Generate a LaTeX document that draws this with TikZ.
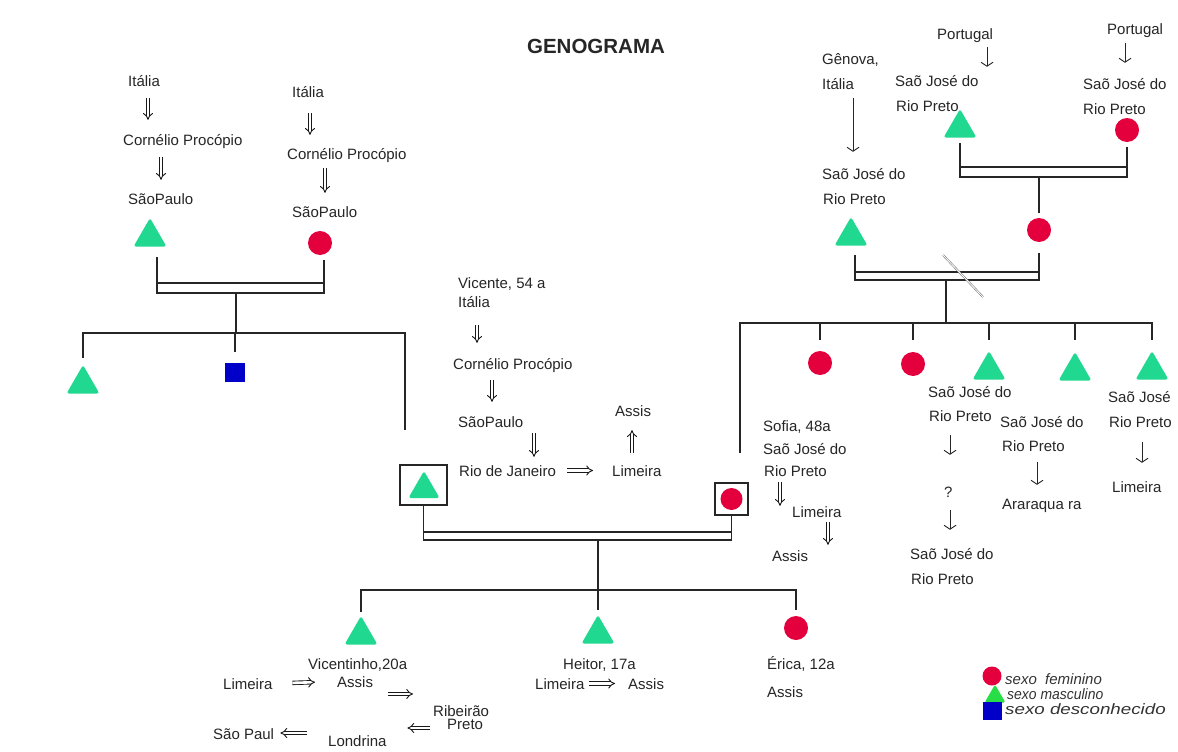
\documentclass[tikz,border=0pt]{standalone}
\usepackage{fontspec}
\usepackage{graphicx}
\setmainfont{Liberation Sans}
\usetikzlibrary{arrows.meta,shapes.geometric,calc}

\definecolor{fem}{RGB}{228,0,60}
\definecolor{masc}{RGB}{32,216,144}
\definecolor{masclg}{RGB}{40,222,70}
\definecolor{unk}{RGB}{0,0,200}

\tikzset{
  gl/.style={line width=1.3pt, black!85},
  txt/.style={inner sep=0pt, anchor=base west, text height=11pt, text depth=0pt,
              font=\fontsize{15}{15}\selectfont, text=black!85},
  lgtxt/.style={inner sep=0pt, anchor=base west, text height=11pt, text depth=0pt,
              font=\itshape\fontsize{15}{15}\selectfont, text=black!80},
  male/.style={regular polygon, regular polygon sides=3, fill=masc, minimum size=38pt,
               inner sep=0pt, rounded corners=2.5pt},
  female/.style={circle, fill=fem, minimum size=24pt, inner sep=0pt},
  unknown/.style={rectangle, fill=unk, minimum width=20pt, minimum height=19pt, inner sep=0pt},
  frame/.style={rectangle, draw=black!85, line width=1.2pt, inner sep=0pt},
  dar/.style={double=white, double distance=2.6pt, line width=0.9pt, -{Implies}, black!90},
  sar/.style={line width=0.9pt, -{Straight Barb[length=4pt, width=12pt]}, black!85},
  slash/.style={gray, double=white, double distance=0.8pt, line width=0.6pt},
}

% marriage link: two verticals joined by a doubled horizontal bar
% #1,#2 partner anchors, #3,#4 start heights, #5 upper bar, #6 lower bar
\newcommand{\couple}[6]{%
  \draw[gl] (#1 |- 0,#3) -- (#1 |- 0,#6) -- (#2 |- 0,#6) -- (#2 |- 0,#4);
  \draw[gl] (#1 |- 0,#5) -- (#2 |- 0,#5);}

% vertical arrow between two stacked labels at a given x
% #1 style, #2 from, #3 to, #4 x, #5/#6 gaps
\newcommand{\vconn}[6]{%
  \draw[#1, shorten <=#5pt, shorten >=#6pt] (#2.south -| #4,0) -- (#3.north -| #4,0);}

\begin{document}
\begin{tikzpicture}[x=1pt,y=-1pt]
\fill[white] (0,0) rectangle (1178,752);
\useasboundingbox (0,0) rectangle (1178,752);

% ---------- title ----------
\node[inner sep=0pt, anchor=base, font=\bfseries\fontsize{20.5}{20.5}\selectfont, text=black!85]
  (title) at (596,54) {GENOGRAMA};

% ---------- paternal grandparents ----------
\node[txt] (it1) at (128,86)  {Itália};
\node[txt] (co1) at (123,145) {Cornélio Procópio};
\node[txt] (sp1) at (128,204) {SãoPaulo};
\vconn{dar}{it1}{co1}{148}{12}{14}
\vconn{dar}{co1}{sp1}{161}{12}{13}
\node[male] (gf1) at (150,237) {};

\node[txt] (it2) at (292,97)  {Itália};
\node[txt] (co2) at (287,159) {Cornélio Procópio};
\node[txt] (sp2) at (292,217) {SãoPaulo};
\vconn{dar}{it2}{co2}{310}{16}{13}
\vconn{dar}{co2}{sp2}{325}{9}{13}
\node[female] (gm1) at (320,243) {};

\coordinate (gf1c) at ($(gf1.south)+(7,0)$);
\coordinate (gm1c) at ($(gm1.south)+(4,0)$);
\couple{gf1c}{gm1c}{257}{260}{283}{293}

% their children
\node[male] (ch1) at (83,384) {};
\node[unknown] (ch2) at (235,372) {};
\coordinate (u1) at (236,293);
\coordinate (vcut) at (405,430);
\draw[gl] (u1) -- (u1 |- 0,333);
\draw[gl] (ch1 |- 0,358) -- (ch1 |- 0,333) -- (vcut |- 0,333) -- (vcut);
\draw[gl] (ch2 |- 0,333) -- (ch2 |- 0,352);

% ---------- Vicente ----------
\node[txt] (vn)  at (458,288) {Vicente, 54 a};
\node[txt] (vit) at (458,307) {Itália};
\node[txt] (vco) at (453,369) {Cornélio Procópio};
\node[txt] (vsp) at (458,427) {SãoPaulo};
\node[txt] (rio) at (459,476) {Rio de Janeiro};
\node[txt] (vlim) at (612,476) {Limeira};
\node[txt] (vas) at (615,416) {Assis};
\vconn{dar}{vit}{vco}{477}{18}{15}
\vconn{dar}{vco}{vsp}{492}{11}{14}
\vconn{dar}{vsp}{rio}{534}{6}{8}
\draw[dar, shorten <=11.3pt, shorten >=19pt] (rio.east) -- (vlim.west);
\draw[dar, shorten <=12pt, shorten >=14pt] (vlim.north -| 632,0) -- (vas.south -| 632,0);

\node[frame, minimum width=47pt, minimum height=40pt] (vbox) at (423.5,485) {};
\node[male, minimum size=36pt] (vic) at (424,489) {};

% ---------- Sofia ----------
\node[txt] (sn)   at (763,431) {Sofia, 48a};
\node[txt] (ssj)  at (763,454) {Saõ José do};
\node[txt] (srp)  at (764,476) {Rio Preto};
\node[txt] (slim) at (792,517) {Limeira};
\node[txt] (sas)  at (772,561) {Assis};
\vconn{dar}{srp}{slim}{780}{6}{0}
\vconn{dar}{slim}{sas}{828}{5}{5}

\node[frame, minimum width=33pt, minimum height=32pt] (sbox) at (731.5,499) {};
\node[female, minimum size=22pt] (sof) at (731.5,499) {};

\couple{vbox.south}{sbox.south}{505}{515}{532}{540}

% ---------- their children ----------
\node[male] (vtho) at (361,635) {};
\node[male] (heit) at (598,634) {};
\node[female] (eri) at (796,628) {};
\coordinate (u2) at (598,540);
\draw[gl] (u2) -- (u2 |- 0,590);
\draw[gl] (vtho |- 0,612) -- (vtho |- 0,590) -- (eri |- 0,590) -- (eri |- 0,610);
\draw[gl] (heit |- 0,590) -- (heit |- 0,610);

\node[txt] (vtn) at (308,669) {Vicentinho,20a};
\node[txt] (vl2) at (223,689) {Limeira};
\node[txt] (va2) at (337,687) {Assis};
\node[txt] (rib) at (433,716) {Ribeirão};
\node[txt] (rib2) at (447,729.5) {Preto};
\node[txt] (lon) at (328,746) {Londrina};
\node[txt] (spl) at (213,739) {São Paul};
\draw[dar, shorten <=19.8pt, shorten >=22pt] (vl2.east) -- (va2.west);
\draw[dar, shorten <=15.2pt, shorten >=20pt] (va2.east |- 0,694) -- (rib.west |- 0,694);
\draw[dar, shorten <=3pt, shorten >=20.6pt] (rib.west |- 0,728) -- (lon.east |- 0,728);
\draw[dar, shorten <=21pt, shorten >=6.1pt] (lon.west |- 0,733) -- (spl.east |- 0,733);

\node[txt] (hn)  at (563,669) {Heitor, 17a};
\node[txt] (hl)  at (535,689) {Limeira};
\node[txt] (ha)  at (628,689) {Assis};
\draw[dar, shorten <=4.5pt, shorten >=13pt] (hl.east) -- (ha.west);

\node[txt] (en) at (767,669) {Érica, 12a};
\node[txt] (ea) at (767,697) {Assis};

% ---------- maternal side ----------
\node[txt] (por1) at (937,40)  {Portugal};
\node[txt] (p1a)  at (895,86)  {Saõ José do};
\node[txt] (p1b)  at (896,111) {Rio Preto};
\vconn{sar}{por1}{p1a}{987}{7}{8}
\node[male] (pgf) at (960,128) {};

\node[txt] (por2) at (1107,35)  {Portugal};
\node[txt] (p2a)  at (1083,89)  {Saõ José do};
\node[txt] (p2b)  at (1083,114) {Rio Preto};
\vconn{sar}{por2}{p2a}{1125}{8}{15}
\node[female] (pgm) at (1127,130) {};

\couple{pgf.south}{pgm.south}{143}{147}{167}{177}
\node[female] (mom) at (1039,230) {};
\coordinate (u3) at (1039,177);
\draw[gl, shorten >=5pt] (u3) -- (u3 |- mom.north);

\node[txt] (gen)   at (822,64)  {Gênova,};
\node[txt] (genit) at (822,89)  {Itália};
\node[txt] (g2a)   at (822,179) {Saõ José do};
\node[txt] (g2b)   at (823,204) {Rio Preto};
\vconn{sar}{genit}{g2a}{853}{9}{16}
\node[male] (gf2) at (851,236) {};

\coordinate (gf2c) at ($(gf2.south)+(4,0)$);
\couple{gf2c}{mom.south}{255}{253}{272}{280}
\draw[slash] (943,255) -- (983,297);

% children of the maternal couple
\node[female] (c1) at (820,363) {};
\node[female] (c2) at (913,364) {};
\node[male] (t3) at (989,370) {};
\node[male] (t4) at (1075,371) {};
\node[male] (t5) at (1152,370) {};
\coordinate (u4) at (946,280);
\coordinate (scut) at (740,453);
\draw[gl] (u4) -- (u4 |- 0,323);
\draw[gl] (scut) -- (scut |- 0,323) -- (t5 |- 0,323) -- (t5 |- 0,340);
\foreach \k in {c1,c2,t3,t4} \draw[gl] (\k |- 0,323) -- (\k |- 0,340);

\node[txt] (c2a) at (928,397) {Saõ José do};
\node[txt] (c2b) at (929,421) {Rio Preto};
\node[txt] (c2q) at (944,497) {?};
\node[txt] (c2c) at (910,559) {Saõ José do};
\node[txt] (c2d) at (911,584) {Rio Preto};
\vconn{sar}{c2b}{c2q}{950}{14}{31}
\vconn{sar}{c2q}{c2c}{950}{13}{18}

\node[txt] (t3a) at (1000,427) {Saõ José do};
\node[txt] (t3b) at (1002,451) {Rio Preto};
\node[txt] (t3c) at (1002,509) {Araraqua ra};
\vconn{sar}{t3b}{t3c}{1037}{11}{13}

\node[txt] (t5a) at (1108,402) {Saõ José};
\node[txt] (t5b) at (1109,427) {Rio Preto};
\node[txt] (t5c) at (1112,492) {Limeira};
\vconn{sar}{t5b}{t5c}{1142}{15}{18}

% ---------- legend ----------
\node[female, minimum size=19pt] (lf) at (992,676) {};
\node[male, fill=masclg, minimum size=24pt, rounded corners=1.5pt] (lm) at (995,696.5) {};
\node[unknown, minimum width=19pt, minimum height=18pt] (lu) at (992,711) {};
\node[lgtxt] (lt1) at (1005,684) {sexo\ \ feminino};
\node[lgtxt] (lt2) at (1007,699) {\scalebox{0.93}[1]{sexo masculino}};
\node[lgtxt] (lt3) at (1005,714) {\scalebox{1.25}[1]{sexo desconhecido}};
\end{tikzpicture}
\end{document}
